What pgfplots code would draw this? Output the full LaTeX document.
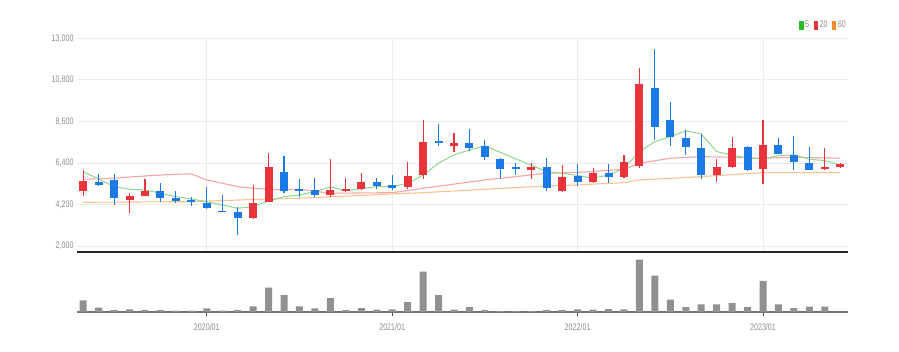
\documentclass[border=0pt]{standalone}
\usepackage{fontspec}
\setmainfont{Liberation Sans}[FakeStretch=0.75]
\usepackage{pgfplots}
\pgfplotsset{compat=1.18}
\usepackage{pgfplotstable}

\definecolor{upred}{RGB}{232,52,58}
\definecolor{downblue}{RGB}{28,122,230}
\definecolor{ma5}{RGB}{140,215,140}
\definecolor{ma20}{RGB}{245,165,165}
\definecolor{ma60}{RGB}{248,195,145}
\definecolor{lg5}{RGB}{40,190,40}
\definecolor{lg20}{RGB}{232,52,58}
\definecolor{lg60}{RGB}{245,140,40}
\definecolor{gridc}{RGB}{236,236,236}
\definecolor{ticktext}{RGB}{140,140,140}
\definecolor{volc}{RGB}{145,145,145}

% up (red) candles: index, open, high, low, close
\pgfplotstableread{
i o h l c
0 4915 6028 4650 5445
3 4438 4793 3733 4666
4 4666 5535 4640 4915
11 3468 5217 3431 4295
12 4348 6913 4316 6171
16 4703 6595 4581 4968
17 4915 5588 4880 5021
18 5005 5885 4968 5400
21 5110 6436 5021 5726
22 5763 8678 5551 7531
24 7300 7973 6966 7440
29 6028 6415 5535 6200
31 4931 6293 4846 5673
33 5408 6150 5323 5853
35 5673 6823 5588 6468
36 6240 11418 6118 10570
41 5763 6595 5408 6171
42 6203 7793 6118 7210
44 6065 8678 5286 7353
48 6065 7178 6028 6203
49 6171 6400 6150 6346
}\upc

% down (blue) candles
\pgfplotstableread{
i o h l c
1 5400 5800 5200 5250
2 5480 5816 4173 4530
5 4900 5355 4316 4544
6 4560 4930 4295 4400
7 4438 4613 4136 4316
8 4295 5111 3977 4014
9 3871 4685 3818 3818
10 3818 4083 2567 3468
13 5938 6770 4793 4931
14 5021 5535 4581 4931
15 4968 5620 4581 4703
19 5400 5620 5005 5180
20 5233 5763 4968 5058
23 7580 8482 7300 7440
25 7475 8201 7035 7210
26 7300 7618 6558 6733
27 6611 6650 5535 6065
28 6171 6415 5763 6065
30 6200 6680 4931 5058
32 5710 6346 5196 5408
34 5885 6346 5355 5673
37 10358 12425 7618 8293
38 8678 9616 7300 7793
39 7740 8148 6823 7229
40 7178 7920 5535 5763
43 7263 7300 5990 6028
45 7353 7740 6876 6876
46 6823 7830 6028 6468
47 6383 7263 6028 6028
}\downc

\pgfplotstableread{
i v
0 11.7
1 4.3
2 2.0
3 2.7
4 2.0
5 2.0
6 1.3
7 1.3
8 3.7
9 1.3
10 2.0
11 5.7
12 24.3
13 17.0
14 5.7
15 3.7
16 14.0
17 2.0
18 4.0
19 2.3
20 2.7
21 10.0
22 40.3
23 17.0
24 2.3
25 5.0
26 2.0
27 1.0
28 1.0
29 1.0
30 2.0
31 2.0
32 2.7
33 2.3
34 3.0
35 2.7
36 52.3
37 36.3
38 12.3
39 5.0
40 7.7
41 7.7
42 9.0
43 5.0
44 31.0
45 7.7
46 4.0
47 5.3
48 5.3
49 0.0
}\vol

\pgfplotsset{candle/.style={only marks, mark=*, mark size=0pt,
  mark options={draw=none, fill=none}, forget plot}}

\begin{document}
\begin{tikzpicture}
\useasboundingbox (0,0) rectangle (899pt,351pt);
\begin{axis}[
  scale only axis, width=771pt, height=213.7pt,
  at={(77pt,99pt)}, anchor=south west,
  xmin=-0.4, xmax=49.5, ymin=1682, ymax=13000,
  xtick={8,20,32,44}, xticklabels={},
  ytick={2000,4200,6400,8600,10800,13000},
  scaled y ticks=false,
  grid=major, major grid style={gridc, line width=0.7pt},
  axis x line*=bottom, axis y line*=left,
  x axis line style={-, black!85, line width=1.6pt},
  y axis line style={draw=none},
  major tick length=0pt,
  yticklabel style={font=\fontsize{9.5}{10}\selectfont, text=ticktext},
  yticklabel={\pgfmathprintnumber[fixed, precision=0, 1000 sep={,}, assume math mode=true]{\tick}},
  legend style={at={(1,1)}, anchor=south east, yshift=7pt, draw=none, fill=none,
    legend columns=3, font=\fontsize{9.5}{10}\selectfont, text=ticktext, inner sep=0pt,
    /tikz/every even column/.style={column sep=2.5pt}},
]
\addlegendimage{legend image code/.code={\fill[lg5] (0pt,-4pt) rectangle (3.5pt,4pt);}}
\addlegendentry{5}
\addlegendimage{legend image code/.code={\fill[lg20] (0pt,-4pt) rectangle (3.5pt,4pt);}}
\addlegendentry{20}
\addlegendimage{legend image code/.code={\fill[lg60] (0pt,-4pt) rectangle (3.5pt,4pt);}}
\addlegendentry{60}

% moving averages
\addplot[ma60, line width=1.1pt, forget plot] coordinates {
(0,4316) (7,4348) (12,4491) (14,4528) (20,4756) (22,4825) (30,5180) (32,5233)
(35,5355) (36,5498) (40,5673) (44,5885) (49,5885)};
\addplot[ma20, line width=1.1pt, forget plot] coordinates {
(0,5535) (2,5588) (4,5710) (6,5800) (7,5816) (8,5498) (9,5323) (10,5143) (11,5058)
(12,5005) (13,4968) (14,5005) (16,4793) (20,4825) (21,4931) (22,5058) (26,5498)
(30,5853) (32,5896) (35,6065) (36,6383) (38,6648) (40,6733) (42,6700) (44,6648)
(46,6700) (49,6648)};
\addplot[ma5, line width=1pt, forget plot] coordinates {
(0,5938) (1,5551) (2,5143) (3,5005) (4,4968) (5,4793) (6,4613) (7,4491) (8,4348)
(9,4173) (10,3998) (11,4083) (12,4385) (13,4613) (14,4703) (15,4878) (16,5127)
(17,4931) (18,5037) (19,5143) (20,5143) (21,5323) (22,5763) (23,6383) (24,6823)
(25,7088) (26,7300) (30,5938) (31,5853) (32,5737) (33,5588) (34,5763) (35,6118)
(36,6998) (37,7528) (38,7793) (39,8095) (40,7936) (41,6998) (42,6823) (43,6648)
(44,6611) (45,6786) (46,6823) (47,6595) (48,6521) (49,6293)};

% wicks
\addplot[candle, error bars/.cd, y dir=plus, y explicit,
  error mark=none, error bar style={draw=upred, line width=1.1pt}]
  table[x=i, y=l, y error expr=\thisrow{h}-\thisrow{l}] {\upc};
\addplot[candle, error bars/.cd, y dir=plus, y explicit,
  error mark=none, error bar style={draw=downblue, line width=1.1pt}]
  table[x=i, y=l, y error expr=\thisrow{h}-\thisrow{l}] {\downc};
% bodies
\addplot[candle, error bars/.cd, y dir=plus, y explicit,
  error mark=none, error bar style={draw=upred, line width=8pt}]
  table[x=i, y=o, y error expr=\thisrow{c}-\thisrow{o}] {\upc};
\addplot[candle, error bars/.cd, y dir=plus, y explicit,
  error mark=none, error bar style={draw=downblue, line width=8pt}]
  table[x=i, y=c, y error expr=\thisrow{o}-\thisrow{c}] {\downc};
\end{axis}

\begin{axis}[
  scale only axis, width=771pt, height=60pt,
  at={(77pt,39pt)}, anchor=south west,
  xmin=-0.4, xmax=49.5, ymin=0, ymax=60,
  axis x line*=bottom, axis y line=none,
  x axis line style={-, black!55, line width=2pt},
  xtick={8,20,32,44}, xticklabels={2020/01,2021/01,2022/01,2023/01},
  tick align=outside, major tick length=4pt,
  tick style={black!70, line width=0.9pt},
  xticklabel style={font=\fontsize{9.5}{10}\selectfont, text=ticktext, yshift=-4pt},
  ytick=\empty,
  ybar, bar width=7pt,
]
\addplot[fill=volc, draw=none] table[x=i, y=v] {\vol};
\end{axis}
\end{tikzpicture}
\end{document}
